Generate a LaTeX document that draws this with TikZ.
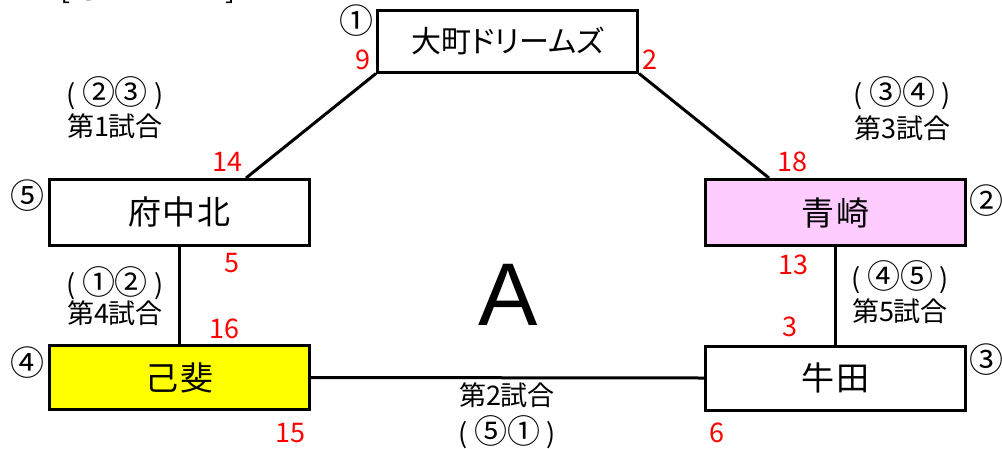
\documentclass[tikz,border=0pt]{standalone}
\usepackage{fontspec}
\setmainfont{Noto Sans CJK JP}
\newfontfamily\jpp[RawFeature=+palt]{Noto Sans CJK JP}
\newfontfamily\jpwide[LetterSpace=6]{Noto Sans CJK JP}
\newfontfamily\latin{Liberation Sans}
\usetikzlibrary{calc}
\definecolor{pinkfill}{RGB}{255,204,255}
\definecolor{yel}{RGB}{255,255,0}
\newcommand{\cdg}[1]{{\fontsize{33}{34}\selectfont #1}}
\tikzset{
  team/.style={draw=black, line width=3pt, minimum width=260pt, inner sep=0pt,
    font=\jpwide\fontsize{33}{36}\selectfont},
  conn/.style={line width=3pt},
  score/.style={text=red, inner sep=0pt, font=\fontsize{27}{30}\selectfont},
  lbl/.style={inner sep=0pt, font=\fontsize{27}{30}\selectfont},
  seed/.style={inner sep=0pt, font=\fontsize{34}{36}\selectfont}
}
\begin{document}
\begin{tikzpicture}[x=1pt,y=-1pt]
\useasboundingbox (0,0) rectangle (1002,448);
\node[anchor=base, inner sep=0pt, font=\jpp\fontsize{30}{32}\selectfont] (title) at (148,-2) {[ 予選リーグ ]};
% teams
\node[team, minimum height=62pt, font=\jpp\fontsize{30}{34}\selectfont] (omachi) at (507.5,41) {大町ドリームズ};
\node[team, minimum height=66pt, fill=pinkfill] (aosaki) at (835.5,212.5) {青崎};
\node[team, minimum height=66pt] (fuchu) at (179.5,212.5) {府中北};
\node[team, minimum height=64pt, fill=yel] (koi) at (179.5,377.5) {己斐};
\node[team, minimum height=64pt] (ushita) at (835.5,378) {牛田};
% connectors
\draw[conn] (omachi.south west) -- ($(fuchu.north west)!0.753!(fuchu.north east)$);
\draw[conn] (omachi.south east) -- ($(aosaki.north west)!0.247!(aosaki.north east)$);
\draw[conn] (fuchu.south) -- (koi.north);
\draw[conn] (aosaki.south) -- (ushita.north);
\draw[conn] (koi.east) -- (ushita.west);
% seeds
\node[seed] (s1) at (356,21) {①};
\node[seed] (s2) at (986,201) {②};
\node[seed] (s3) at (986,360) {③};
\node[seed] (s4) at (27,363) {④};
\node[seed] (s5) at (27,196) {⑤};
% scores
\node[score] (n9) at (363,60) {9};
\node[score] (n2) at (650,60) {2};
\node[score] (n14) at (227,162) {14};
\node[score] (n18) at (792,162) {18};
\node[score] (n5) at (232,263) {5};
\node[score] (n13) at (793,265) {13};
\node[score] (n16) at (224,329) {16};
\node[score] (n3) at (790,327) {3};
\node[score] (n15) at (290,433) {15};
\node[score] (n6) at (717,433) {6};
% match labels
\node[lbl] (m1a) at (115,93) {( \cdg{②③} )};
\node[lbl] (m1b) at (115,126) {第1試合};
\node[lbl] (m3a) at (902,93) {( \cdg{③④} )};
\node[lbl] (m3b) at (902,128) {第3試合};
\node[lbl] (m4a) at (115,283) {( \cdg{①②} )};
\node[lbl] (m4b) at (115,313) {第4試合};
\node[lbl] (m5a) at (900,277) {( \cdg{④⑤} )};
\node[lbl] (m5b) at (900,311) {第5試合};
\node[lbl] (m2b) at (507,395) {第2試合};
\node[lbl] (m2a) at (507,432) {( \cdg{⑤①} )};
% group letter
\node[inner sep=0pt, font=\latin\fontsize{89}{90}\selectfont] (grp) at (508,295) {A};
\end{tikzpicture}
\end{document}
